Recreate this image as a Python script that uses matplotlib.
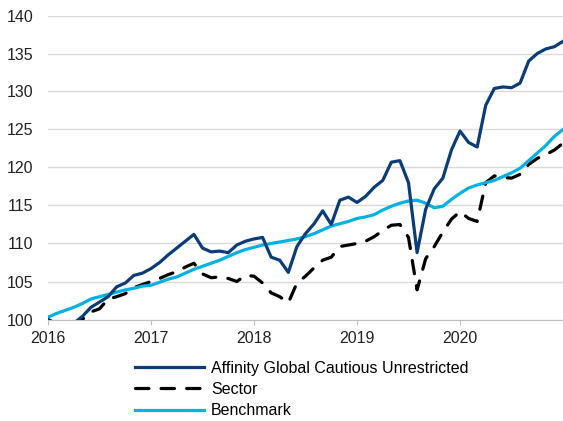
import matplotlib
matplotlib.use("Agg")
import matplotlib.pyplot as plt

plt.rcParams['font.family'] = ['Liberation Sans', 'DejaVu Sans']

# --- DATA (monthly index, Jan 2016 = 0) ---
year_labels = ["2016", "2017", "2018", "2019", "2020"]

fund = [100.0, 99.4, 99.0, 99.5, 100.4, 101.6, 102.3, 103.0, 104.3, 104.8,
        105.8, 106.1, 106.7, 107.5, 108.5, 109.4, 110.3, 111.2, 109.4, 108.9,
        109.0, 108.8, 109.8, 110.3, 110.6, 110.8, 108.2, 107.8, 106.2, 109.6,
        111.3, 112.6, 114.3, 112.5, 115.7, 116.1, 115.4, 116.2, 117.4, 118.3,
        120.7, 120.9, 118.0, 108.8, 114.5, 117.2, 118.6, 122.3, 124.8, 123.3,
        122.7, 128.2, 130.4, 130.6, 130.5, 131.1, 134.0, 135.0, 135.6, 135.9,
        136.6]

sector = [100.0, 99.4, 99.1, 99.3, 100.0, 101.0, 101.4, 102.7, 103.0, 103.4,
          104.2, 104.6, 105.0, 105.4, 105.9, 106.3, 106.9, 107.4, 106.0, 105.5,
          105.6, 105.4, 105.0, 105.8, 105.7, 104.8, 103.5, 103.0, 102.2, 104.8,
          105.7, 106.8, 107.8, 108.2, 109.6, 109.8, 110.0, 110.3, 110.9, 111.7,
          112.4, 112.5, 110.8, 103.9, 108.0, 109.6, 111.5, 113.2, 114.2, 113.3,
          112.9, 118.0, 118.9, 118.7, 118.6, 119.1, 120.4, 121.2, 121.7, 122.3,
          123.2]

benchmark = [100.3, 100.8, 101.2, 101.6, 102.1, 102.7, 103.0, 103.3, 103.6, 103.9,
             104.1, 104.4, 104.5, 104.9, 105.3, 105.6, 106.1, 106.6, 107.0, 107.4,
             107.8, 108.3, 108.8, 109.2, 109.5, 109.8, 110.0, 110.2, 110.4, 110.6,
             110.9, 111.3, 111.8, 112.3, 112.6, 112.9, 113.3, 113.5, 113.8, 114.4,
             114.9, 115.3, 115.6, 115.7, 115.3, 114.7, 114.9, 115.8, 116.6, 117.3,
             117.7, 118.0, 118.3, 118.8, 119.3, 119.9, 120.9, 121.9, 122.9, 124.1,
             125.0]

months = list(range(len(fund)))

fig = plt.figure(figsize=(5.63, 4.21), dpi=100)
ax = fig.add_axes([48 / 563, 1 - 319.5 / 421, 1 - 48 / 563, (319.5 - 15.5) / 421])

ax.plot(months, fund, color='#0A3D78', lw=2.3, label='Affinity Global Cautious Unrestricted',
        zorder=4)
ax.plot(months, sector, color='black', lw=2.3, dashes=(4.2, 3.8), dash_capstyle='round',
        label='Sector', zorder=3)
ax.plot(months, benchmark, color='#00B2E3', lw=2.3, label='Benchmark', zorder=3)

ax.set_xlim(0, 60)
ax.set_ylim(100, 140)
ax.set_yticks(range(100, 141, 5))
ax.set_xticks([0, 12, 24, 36, 48])
ax.set_xticklabels(year_labels)

ax.grid(axis='y', color='#D9D9D9', lw=1)
ax.set_axisbelow(True)
for s in ['top', 'right', 'left']:
    ax.spines[s].set_visible(False)
ax.spines['bottom'].set_color('#BFBFBF')
ax.tick_params(axis='y', length=0, pad=10.5, labelsize=11.5, labelcolor='#222222')
ax.tick_params(axis='x', length=3.5, color='#BFBFBF', pad=5, labelsize=11.5, labelcolor='#222222')

fig.legend(loc='upper left', bbox_to_anchor=(135 / 563, 1 - 361 / 421), frameon=False,
           fontsize=11.5, handlelength=4.3, handletextpad=0.45, labelspacing=0.38,
           borderaxespad=0, borderpad=0)

fig.savefig('out.png', dpi=100)
